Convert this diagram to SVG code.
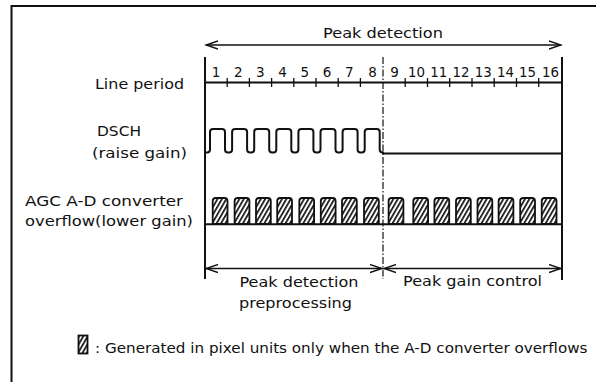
<svg xmlns="http://www.w3.org/2000/svg" width="596" height="387" viewBox="0 0 596 387">
<style>
text{font-family:"DejaVu Sans","Liberation Sans",Arial,sans-serif;fill:#111;}
.lbl{font-size:14.5px;}
.num{font-size:13.5px;text-anchor:middle;}
.ln{stroke:#111;fill:none;stroke-width:2;}
.thin{stroke:#111;fill:none;stroke-width:1.4;}
.tick{stroke:#111;stroke-width:1.3;}
.blk{fill:url(#hatch);stroke:#111;stroke-width:1.8;}
</style>
<defs>
<pattern id="hatch" patternUnits="userSpaceOnUse" width="3.8" height="10" patternTransform="rotate(30)">
<rect x="0" y="0" width="3.8" height="10" fill="#fff"/>
<rect x="0" y="0" width="1.7" height="10" fill="#111"/>
</pattern>
<marker id="arr" markerUnits="userSpaceOnUse" markerWidth="14" markerHeight="10" refX="12" refY="5" orient="auto-start-reverse">
<path d="M0,1 L12,5 L0,9" fill="none" stroke="#111" stroke-width="1.4"/>
</marker>
<path id="blkshape" d="M0,26 V3 Q0,0 3,0 H11.8 Q14.8,0 14.8,3 V26 Z"/>
</defs>
<rect width="596" height="387" fill="#fff"/>
<g id="frame">
<path class="ln" d="M11.5,382 V6 H596"/>
</g>
<g id="connectors">
<line class="thin" x1="206" y1="45" x2="561" y2="45" marker-start="url(#arr)" marker-end="url(#arr)"/>
<line class="ln" x1="205" y1="57" x2="205" y2="279"/>
<line class="ln" x1="562" y1="57" x2="562" y2="280"/>
<line x1="383" y1="57" x2="383" y2="279" stroke="#111" stroke-width="1.2" stroke-dasharray="7 2 1.5 2"/>
<line class="ln" x1="205" y1="82.5" x2="562" y2="82.5"/>
<line class="thin" x1="206" y1="268.5" x2="382" y2="268.5" marker-start="url(#arr)" marker-end="url(#arr)"/>
<line class="thin" x1="384" y1="268.5" x2="561" y2="268.5" marker-start="url(#arr)" marker-end="url(#arr)"/>
</g>
<g id="ticks">
<path class="tick" d="M227.2,78V87M249.4,78V87M271.6,78V87M293.8,78V87M316,78V87M338.2,78V87M360.4,78V87M405.2,78V87M427.5,78V87M449.7,78V87M472,78V87M494.2,78V87M516.5,78V87M538.7,78V87"/>
</g>
<g id="numbers">
<text class="num" x="216" y="77">1</text>
<text class="num" x="238.2" y="77">2</text>
<text class="num" x="260.4" y="77">3</text>
<text class="num" x="282.6" y="77">4</text>
<text class="num" x="304.8" y="77">5</text>
<text class="num" x="327" y="77">6</text>
<text class="num" x="349.2" y="77">7</text>
<text class="num" x="372.5" y="77">8</text>
<text class="num" x="394.6" y="77">9</text>
<text class="num" x="416.6" y="77" textLength="17" lengthAdjust="spacingAndGlyphs">10</text>
<text class="num" x="438.8" y="77" textLength="17" lengthAdjust="spacingAndGlyphs">11</text>
<text class="num" x="461" y="77" textLength="17" lengthAdjust="spacingAndGlyphs">12</text>
<text class="num" x="483.2" y="77" textLength="17" lengthAdjust="spacingAndGlyphs">13</text>
<text class="num" x="505.4" y="77" textLength="17" lengthAdjust="spacingAndGlyphs">14</text>
<text class="num" x="527.6" y="77" textLength="17" lengthAdjust="spacingAndGlyphs">15</text>
<text class="num" x="550.4" y="77" textLength="17" lengthAdjust="spacingAndGlyphs">16</text>
</g>
<g id="title-peak-detection">
<text class="lbl" x="323" y="38" textLength="120" lengthAdjust="spacingAndGlyphs">Peak detection</text>
</g>
<g id="row-line-period">
<text class="lbl" x="95" y="88.5" textLength="89" lengthAdjust="spacingAndGlyphs">Line period</text>
</g>
<g id="row-dsch">
<text class="lbl" x="97" y="136" textLength="44" lengthAdjust="spacingAndGlyphs">DSCH</text>
<text class="lbl" x="92" y="158" textLength="95" lengthAdjust="spacingAndGlyphs">(raise gain)</text>
<path class="ln" stroke-width="2.2" stroke-linejoin="round" d="M206,152.5 H207 q3,0 3,-3 V132 q0,-3 3,-3 h9 q3,0 3,3 V149.5 q0,3 3,3 h1.1 q3,0 3,-3 V132 q0,-3 3,-3 h9 q3,0 3,3 V149.5 q0,3 3,3 h1.1 q3,0 3,-3 V132 q0,-3 3,-3 h9 q3,0 3,3 V149.5 q0,3 3,3 h1.1 q3,0 3,-3 V132 q0,-3 3,-3 h9 q3,0 3,3 V149.5 q0,3 3,3 h1.1 q3,0 3,-3 V132 q0,-3 3,-3 h9 q3,0 3,3 V149.5 q0,3 3,3 h1.1 q3,0 3,-3 V132 q0,-3 3,-3 h9 q3,0 3,3 V149.5 q0,3 3,3 h1.1 q3,0 3,-3 V132 q0,-3 3,-3 h9 q3,0 3,3 V149.5 q0,3 3,3 h1.1 q3,0 3,-3 V132 q0,-3 3,-3 h9 q3,0 3,3 V149.5 q0,3 3,3 H383 V153.5 H562"/>
</g>
<g id="row-agc">
<text class="lbl" x="25" y="206" textLength="158" lengthAdjust="spacingAndGlyphs">AGC A-D converter</text>
<text class="lbl" x="25" y="225.5" textLength="168" lengthAdjust="spacingAndGlyphs">overflow(lower gain)</text>
<g id="overflow-blocks">
<use href="#blkshape" class="blk" x="212.7" y="198"/>
<use href="#blkshape" class="blk" x="234.6" y="198"/>
<use href="#blkshape" class="blk" x="256" y="198"/>
<use href="#blkshape" class="blk" x="277.2" y="198"/>
<use href="#blkshape" class="blk" x="299.3" y="198"/>
<use href="#blkshape" class="blk" x="320.8" y="198"/>
<use href="#blkshape" class="blk" x="342" y="198"/>
<use href="#blkshape" class="blk" x="364" y="198"/>
<use href="#blkshape" class="blk" x="388.6" y="198"/>
<use href="#blkshape" class="blk" x="413.3" y="198"/>
<use href="#blkshape" class="blk" x="434.4" y="198"/>
<use href="#blkshape" class="blk" x="456" y="198"/>
<use href="#blkshape" class="blk" x="477.5" y="198"/>
<use href="#blkshape" class="blk" x="498.6" y="198"/>
<use href="#blkshape" class="blk" x="520.2" y="198"/>
<use href="#blkshape" class="blk" x="541.7" y="198"/>
</g>
<line class="ln" stroke-width="2.2" x1="205" y1="224.3" x2="562" y2="224.3"/>
</g>
<g id="phase-preprocessing">
<text class="lbl" x="239.5" y="286.5" textLength="119" lengthAdjust="spacingAndGlyphs">Peak detection</text>
<text class="lbl" x="239" y="307.5" textLength="113" lengthAdjust="spacingAndGlyphs">preprocessing</text>
</g>
<g id="phase-gain-control">
<text class="lbl" x="403" y="286" textLength="139" lengthAdjust="spacingAndGlyphs">Peak gain control</text>
</g>
<g id="legend">
<rect x="78.5" y="335.5" width="9" height="18" class="blk"/>
<text style="font-size:14px" x="95" y="352.5" textLength="492.5" lengthAdjust="spacingAndGlyphs">: Generated in pixel units only when the A-D converter overflows</text>
</g>
</svg>
